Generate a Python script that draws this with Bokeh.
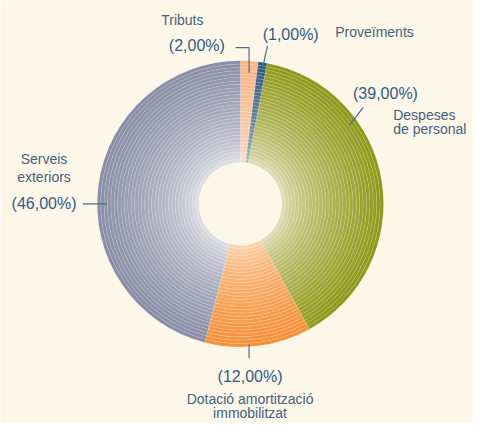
import numpy as np
from bokeh.plotting import figure
from bokeh.models import Range1d, ColumnDataSource
from bokeh.core.properties import value
from bokeh.embed import file_html
from bokeh.resources import INLINE

# ---- data ----
categories = ["Tributs", "Proveïments", "Despeses de personal",
              "Dotació amortització immobilitzat", "Serveis exteriors"]
values = [2.0, 1.0, 39.0, 12.0, 46.0]
pct_labels = ["(2,00%)", "(1,00%)", "(39,00%)", "(12,00%)", "(46,00%)"]
name_lines = [["Tributs"], ["Proveïments"], ["Despeses", "de personal"],
              ["Dotació amortització", "immobilitzat"], ["Serveis", "exteriors"]]

# ---- styles ----
BG = "#fdf7ea"
outer_cols = ["#fbb37f", "#2b5a80", "#8e9817", "#f58f36", "#888ca6"]
inner_cols = ["#fde2cc", "#b8c4d4", "#e4e4c4", "#fdd9b6", "#e4e5ec"]
W, H = 473, 423
REF_W, REF_H = 489, 439
CX, CY = 248, REF_H - 211
R_OUT, R_IN = 148, 43
NRINGS = 30

def hex2rgb(h):
    h = h.lstrip("#")
    return np.array([int(h[i:i + 2], 16) for i in (0, 2, 4)], float)

def rgb2hex(c):
    c = np.clip(np.round(c), 0, 255).astype(int)
    return "#%02x%02x%02x" % tuple(c)

p = figure(width=W, height=H, output_backend="svg", toolbar_location=None,
           x_range=Range1d(0, REF_W), y_range=Range1d(0, REF_H),
           min_border=0, background_fill_color=BG, border_fill_color=BG)
p.axis.visible = False
p.grid.visible = False
p.outline_line_color = None

total = sum(values)
cum = np.concatenate([[0], np.cumsum(values)]) / total
edges = np.linspace(R_IN, R_OUT, NRINGS + 1)

xs, ys, ir, orr, sa, ea, fc = [], [], [], [], [], [], []
for i in range(len(values)):
    a_end = np.pi / 2 - 2 * np.pi * cum[i]
    a_start = np.pi / 2 - 2 * np.pi * cum[i + 1]
    ci, co = hex2rgb(inner_cols[i]), hex2rgb(outer_cols[i])
    for k in range(NRINGS):
        t = ((k + 0.5) / NRINGS) ** 0.6
        xs.append(CX); ys.append(CY)
        ir.append(edges[k]); orr.append(edges[k + 1])
        sa.append(a_start); ea.append(a_end)
        fc.append(rgb2hex(ci + (co - ci) * t))

src = ColumnDataSource(dict(x=xs, y=ys, ir=ir, orr=orr, sa=sa, ea=ea, fc=fc))
p.annular_wedge(x="x", y="y", inner_radius="ir", outer_radius="orr",
                start_angle="sa", end_angle="ea", fill_color="fc",
                line_color="#ffffff", line_alpha=0.2, line_width=0.6,
                source=src)

# ---- labels (reference pixel positions, y flipped) ----
def Y(py):
    return REF_H - py

LAB = "#45617f"
PCT = "#2e5c84"
LINE = "#4a6b8a"
FONT = value("Liberation Sans")

leaders = [
    ([243, 257, 257], [49, 49, 75]),
    ([276, 271], [47, 70]),
    ([375, 361], [111, 129]),
    ([257, 257], [357, 371]),
    ([85, 110], [211, 211]),
]
for lx, ly in leaders:
    p.line(lx, [Y(v) for v in ly], line_color=LINE, line_width=1.2)

pct_pos = [(203, 47, "center"), (300, 35, "center"), (398, 97, "center"),
           (258, 390, "center"), (45, 211, "center")]
for (px, py, al), t in zip(pct_pos, pct_labels):
    p.text([px], [Y(py)], text=[t], text_font=FONT, text_font_size="16px",
           text_color=PCT, text_align=al, text_baseline="middle")

name_pos = [(188, 20, "center"), (346, 33, "left"), (406, 119, "left"),
            (258, 414, "center"), (45, 165, "center")]
line_gap = [0, 0, 14.5, 14.5, 18]
for (px, py, al), lines, g in zip(name_pos, name_lines, line_gap):
    for j, t in enumerate(lines):
        p.text([px], [Y(py + j * g)], text=[t], text_font=FONT,
               text_font_size="14px", text_color=LAB, text_align=al,
               text_baseline="middle")

open("out.html", "w").write(file_html(p, INLINE))
